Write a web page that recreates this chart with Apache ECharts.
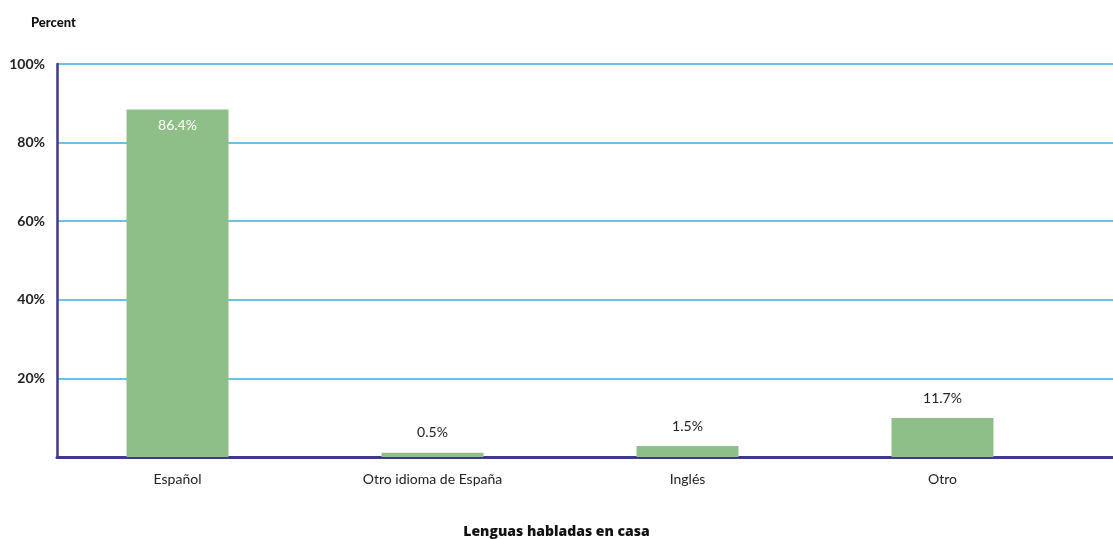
<!DOCTYPE html>
<html><head><meta charset="utf-8">
<script src="https://cdn.jsdelivr.net/npm/echarts@6/dist/echarts.min.js"></script>
<style>html,body{margin:0;padding:0;background:#fff}#c{width:1113px;height:539px}</style>
</head><body><div id="c"></div>
<script>
const categories = ["Español", "Otro idioma de España", "Inglés", "Otro"];
const barValues = [88.4, 1.1, 2.8, 9.9];
const valueLabels = ["86.4%", "0.5%", "1.5%", "11.7%"];
const yTicks = [0, 20, 40, 60, 80, 100];

const chart = echarts.init(document.getElementById('c'), null, {renderer: 'canvas'});
const font = 'Lato, "Noto Sans", sans-serif';
chart.setOption({
  animation: false,
  grid: [
    {left: 57, right: 0, top: 64, bottom: 82},
    {left: 50, right: 43, top: 64, bottom: 82}
  ],
  title: [
    {text: 'Percent', left: 26, top: 11, textStyle: {fontFamily: font, fontWeight: 900, fontSize: 13, color: '#111'}},
    {text: 'Lenguas habladas en casa', left: 'center', top: 520, textStyle: {fontFamily: '"Open Sans", sans-serif', fontWeight: 800, fontSize: 14, color: '#111', letterSpacing: -0.6}}
  ],
  xAxis: [
    {gridIndex: 0, type: 'value', min: 0, max: 1, show: true,
     axisLine: {show: true, onZero: false, lineStyle: {color: '#3f3a8f', width: 3}},
     axisTick: {show: false}, axisLabel: {show: false}, splitLine: {show: false}},
    {gridIndex: 1, type: 'category', data: categories,
     axisLine: {show: false}, axisTick: {show: false},
     axisLabel: {margin: 15, fontFamily: font, fontSize: 14, color: '#222'}}
  ],
  yAxis: [
    {gridIndex: 0, type: 'value', min: 0, max: 100, interval: 20,
     axisLine: {show: true, lineStyle: {color: '#3f3a8f', width: 2.5}},
     axisTick: {show: false},
     axisLabel: {margin: 12, fontFamily: font, fontWeight: 'bold', fontSize: 14, color: '#222',
       formatter: v => (v === 0 ? '' : v + '%')},
     splitLine: {show: true, lineStyle: {color: '#3aaee0', width: 1.5}}},
    {gridIndex: 1, type: 'value', min: 0, max: 100, interval: 20, show: false}
  ],
  series: [{
    type: 'bar', xAxisIndex: 1, yAxisIndex: 1,
    barWidth: 102,
    data: barValues.map((v, i) => ({
      value: v,
      label: i === 0
        ? {show: true, position: 'insideTop', distance: 9, color: '#fff', fontSize: 14, fontFamily: font, formatter: valueLabels[i]}
        : {show: true, position: 'top', distance: 13, color: '#222', fontSize: 14, fontFamily: font, formatter: valueLabels[i]}
    })),
    itemStyle: {color: '#8fbf88'}
  }]
});
</script></body></html>
